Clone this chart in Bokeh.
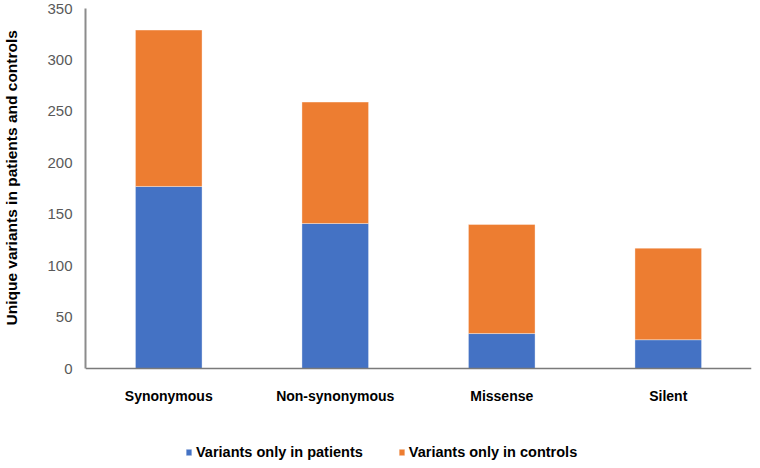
from bokeh.plotting import figure
from bokeh.models import (ColumnDataSource, FactorRange, Range1d, FixedTicker, Legend,
                          LegendItem, Title, LinearAxis)
from bokeh.embed import file_html
from bokeh.resources import INLINE

categories = ["Synonymous", "Non-synonymous", "Missense", "Silent"]
patients = [177, 141, 34, 28]
controls = [152, 118, 106, 89]
series_names = ["Variants only in patients", "Variants only in controls"]
y_ticks = [0, 50, 100, 150, 200, 250, 300, 350]
y_title = "Unique variants in patients and controls"
colors = ["#4472C4", "#ED7D31"]
FONT = "Liberation Sans"

source = ColumnDataSource(data=dict(cat=categories, patients=patients, controls=controls))

# frame extends below zero so the legend can sit inside it
p = figure(
    width=752, height=460,
    x_range=FactorRange(factors=categories, range_padding=0),
    y_range=Range1d(-89.4, 350),
    output_backend="svg", toolbar_location=None,
    min_border_left=85, min_border_right=1, min_border_top=8, min_border_bottom=0,
)
p.outline_line_color = None
p.xgrid.grid_line_color = None
p.ygrid.grid_line_color = None

rs = p.vbar_stack(["patients", "controls"], x="cat", width=0.4, color=colors,
                  line_color="white", line_width=0.6, line_alpha=0.6, source=source)

# y axis
p.yaxis.ticker = FixedTicker(ticks=y_ticks)
p.yaxis.bounds = (0, 350)
p.yaxis.major_tick_line_color = None
p.yaxis.major_tick_out = 0
p.yaxis.minor_tick_line_color = None
p.yaxis.minor_tick_out = 0
p.yaxis.axis_line_color = "#8c8c8c"
p.yaxis.axis_line_width = 2
p.yaxis.major_label_text_font = FONT
p.yaxis.major_label_text_font_size = "15px"
p.yaxis.major_label_text_color = "#595959"
p.yaxis.major_label_standoff = 13

# invisible spacer between tick labels and the y title
spacer = LinearAxis(ticker=FixedTicker(ticks=[0]), axis_line_color=None,
                    major_tick_line_color=None, minor_tick_line_color=None,
                    major_tick_out=22, minor_tick_out=0, major_label_standoff=0,
                    major_label_text_color=None, major_label_text_font_size="1px")
p.add_layout(spacer, "left")

ytitle = Title(text=y_title, align="left", vertical_align="top", offset=135, standoff=2,
               text_font=FONT, text_font_size="15.5px", text_font_style="bold",
               text_color="#000000")
p.add_layout(ytitle, "left")

# x axis drawn at y = 0
p.xaxis.fixed_location = 0
p.xaxis.major_tick_line_color = None
p.xaxis.minor_tick_line_color = None
p.xaxis.axis_line_color = "#7a7a7a"
p.xaxis.axis_line_width = 1.5
p.xaxis.major_label_text_font = FONT
p.xaxis.major_label_text_font_size = "14px"
p.xaxis.major_label_text_font_style = "bold"
p.xaxis.major_label_text_color = "#000000"
p.xaxis.major_label_standoff = 13

legend = Legend(
    items=[LegendItem(label=series_names[0], renderers=[rs[0]]),
           LegendItem(label=series_names[1], renderers=[rs[1]])],
    orientation="horizontal",
    location=(100, 0),
    border_line_color=None,
    background_fill_alpha=0,
    padding=0, margin=0,
    glyph_width=7, glyph_height=8,
    label_standoff=4, spacing=35,
    label_text_font=FONT, label_text_font_size="14.5px",
    label_text_font_style="bold", label_text_color="#000000",
)
p.add_layout(legend, "center")

open("out.html", "w").write(file_html(p, INLINE))
